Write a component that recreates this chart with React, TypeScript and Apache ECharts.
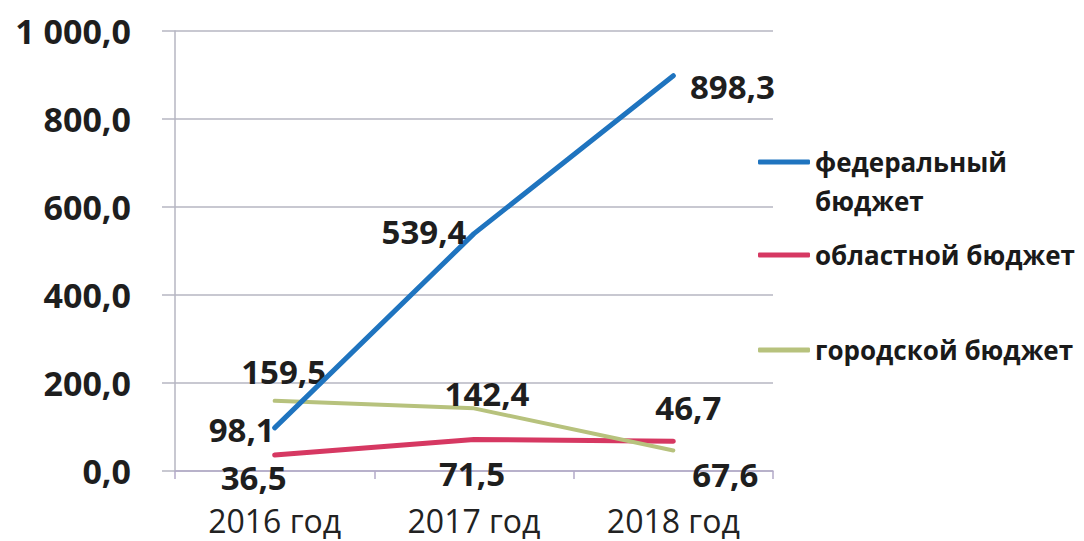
import React, { useEffect, useRef } from "react";
import * as echarts from "echarts";

const categories = ["2016 год", "2017 год", "2018 год"];
const seriesNames = ["федеральный бюджет", "областной бюджет", "городской бюджет"];
const federal = [98.1, 539.4, 898.3];
const regional = [36.5, 71.5, 67.6];
const city = [159.5, 142.4, 46.7];
const yTicks = { min: 0, max: 1000, interval: 200 };

// label placement (offset of label centre from the point), kept separate from values
const federalLabelOffsets = [[-33, 2], [-50, -2], [59, 11]];
const regionalLabelOffsets = [[-21, 23], [-2, 34], [52, 33]];
const cityLabelOffsets = [[9, -29], [13, -15], [15, -43]];

const colors = ["#1f74bf", "#d63862", "#b7c27d"];
const FONT = "'Open Sans', 'DejaVu Sans', sans-serif";

const fmtNum = (v: number) => {
  const s = v.toFixed(1).replace(".", ",");
  const [i, d] = s.split(",");
  return i.replace(/\B(?=(\d{3})+(?!\d))/g, " ") + "," + d;
};

const buildData = (vals: number[], offs: number[][]) =>
  vals.map((v, i) => ({
    value: v,
    label: { position: "inside", offset: offs[i] },
  }));

export default function App() {
  const ref = useRef<HTMLDivElement>(null);
  useEffect(() => {
    if (!ref.current) return;
    const chart = echarts.init(ref.current, null, { renderer: "svg" });
    const labelStyle = {
      show: true,
      formatter: (p: any) => fmtNum(p.value),
      fontFamily: FONT,
      fontSize: 33,
      fontWeight: "bold",
      color: "#1e1e1e",
    };
    const legendBase = {
      orient: "vertical",
      left: 758,
      padding: 0,
      itemWidth: 52,
      itemHeight: 5,
      icon: "roundRect",
      textStyle: {
        fontFamily: FONT,
        fontSize: 26,
        fontWeight: "bold",
        color: "#1a1a1a",
        lineHeight: 39,
      },
    };
    chart.setOption({
      animation: false,
      backgroundColor: "#ffffff",
      textStyle: { fontFamily: FONT },
      grid: { left: 175, right: 311, top: 31, bottom: 70, containLabel: false },
      legend: [
        {
          ...legendBase,
          top: 103.5,
          data: [seriesNames[0]],
          formatter: () => " \nфедеральный\nбюджет",
        },
        { ...legendBase, top: 235.5, data: [seriesNames[1]] },
        { ...legendBase, top: 330.5, data: [seriesNames[2]] },
      ],
      xAxis: {
        type: "category",
        data: categories,
        boundaryGap: true,
        axisLine: { show: true, lineStyle: { color: "#b3aac8", width: 1.5 } },
        axisTick: { show: true, length: 8, lineStyle: { color: "#b3aac8", width: 1.5 } },
        axisLabel: {
          fontFamily: FONT,
          fontSize: 32,
          color: "#222222",
          margin: 33,
        },
      },
      yAxis: {
        type: "value",
        min: yTicks.min,
        max: yTicks.max,
        interval: yTicks.interval,
        axisLine: { show: true, lineStyle: { color: "#b6b6c2", width: 1.5 } },
        axisTick: { show: true, length: 13, lineStyle: { color: "#b6b6c2", width: 1.5 } },
        splitLine: { show: true, lineStyle: { color: "#b6b6c2", width: 1.5 } },
        axisLabel: {
          formatter: (v: number) => fmtNum(v),
          fontFamily: FONT,
          fontSize: 34,
          fontWeight: "bold",
          color: "#1e1e1e",
          margin: 44,
        },
      },
      series: [
        {
          name: seriesNames[0],
          type: "line",
          data: buildData(federal, federalLabelOffsets),
          symbol: "circle",
          symbolSize: 2,
          showSymbol: true,
          lineStyle: { color: colors[0], width: 5, cap: "round" },
          itemStyle: { color: colors[0] },
          label: labelStyle,
          z: 3,
        },
        {
          name: seriesNames[1],
          type: "line",
          data: buildData(regional, regionalLabelOffsets),
          symbol: "circle",
          symbolSize: 2,
          showSymbol: true,
          lineStyle: { color: colors[1], width: 5, cap: "round" },
          itemStyle: { color: colors[1] },
          label: labelStyle,
          z: 2,
        },
        {
          name: seriesNames[2],
          type: "line",
          data: buildData(city, cityLabelOffsets),
          symbol: "circle",
          symbolSize: 2,
          showSymbol: true,
          lineStyle: { color: colors[2], width: 4, cap: "round" },
          itemStyle: { color: colors[2] },
          label: labelStyle,
          z: 2,
        },
      ],
    });
    return () => chart.dispose();
  }, []);
  return (
    <div
      ref={ref}
      style={{ position: "fixed", left: 0, top: 0, width: 1084, height: 541, background: "#fff" }}
    />
  );
}
